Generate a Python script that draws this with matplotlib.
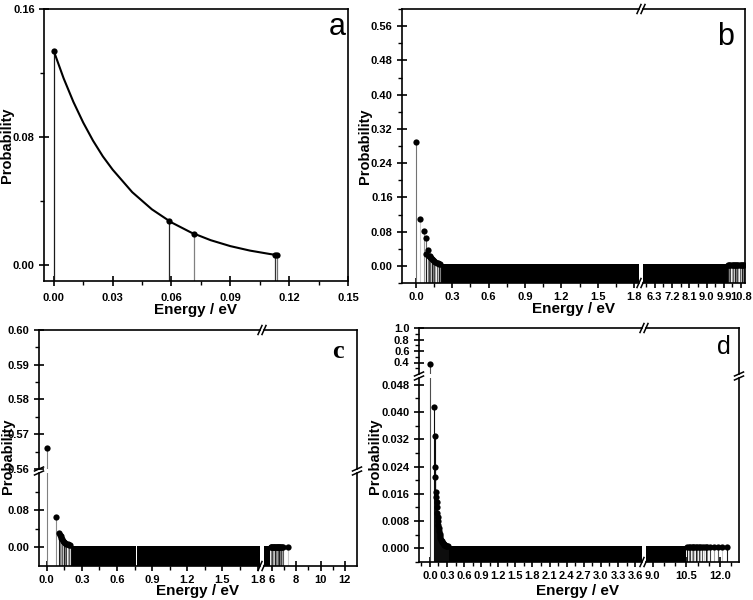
import matplotlib.pyplot as plt
from matplotlib.lines import Line2D
from matplotlib.ticker import MultipleLocator, FixedLocator, FormatStrFormatter

plt.rcParams['font.family'] = ['Liberation Sans Narrow', 'Liberation Sans']
plt.rcParams['font.weight'] = 'bold'

W, H = 753, 600

# panel a : five levels and the fitted decay curve
a_energy = [0.0, 0.0585, 0.0714, 0.1129, 0.1138]
a_prob = [0.1337, 0.0276, 0.0192, 0.0062, 0.0062]
a_fit_energy = [0.0, 0.005, 0.01, 0.015, 0.02, 0.025, 0.03, 0.04, 0.05,
                0.06, 0.07, 0.08, 0.09, 0.10, 0.11, 0.1138]
a_fit_prob = [0.1337, 0.1167, 0.1019, 0.0890, 0.0777, 0.0679, 0.0596, 0.0455,
              0.0348, 0.0266, 0.0203, 0.0155, 0.0118, 0.0090, 0.0069, 0.0062]

# panel b
b_energy = [0.0, 0.035, 0.068, 0.079, 0.087, 0.100, 0.105, 0.112, 0.118, 0.125,
            0.132, 0.140, 0.150, 0.160, 0.170, 0.180, 0.190, 0.200]
b_prob = [0.289, 0.109, 0.082, 0.065, 0.027, 0.038, 0.024, 0.022, 0.020, 0.018,
          0.016, 0.013, 0.011, 0.009, 0.007, 0.006, 0.005, 0.004]
b_band_start = [0.195, 5.70]
b_band_end = [1.84, 10.10]
b_band_top = 0.004
b_tail_energy = [10.12, 10.18, 10.24, 10.30, 10.36, 10.42, 10.48, 10.54,
                 10.60, 10.66, 10.72, 10.78, 10.84, 10.90, 10.96]
b_tail_prob = [0.002, 0.002, 0.002, 0.002, 0.002, 0.002, 0.002, 0.002,
               0.002, 0.002, 0.002, 0.002, 0.002, 0.002, 0.002]

# panel c
c_energy = [0.0, 0.078, 0.107, 0.112, 0.119, 0.126, 0.133, 0.140, 0.150,
            0.160, 0.169, 0.180, 0.190, 0.197]
c_prob = [0.566, 0.066, 0.031, 0.0275, 0.024, 0.0203, 0.017, 0.0145, 0.011,
          0.0095, 0.008, 0.0068, 0.006, 0.0055]
c_band_start = [0.200, 0.612, 0.768, 5.37]
c_band_end = [0.609, 0.765, 1.82, 5.85]
c_band_top = 0.004
c_tail_energy = [5.90, 5.96, 6.02, 6.08, 6.14, 6.20, 6.26, 6.32, 6.38, 6.44,
                 6.50, 6.56, 6.62, 6.68, 6.74, 6.80, 6.90, 7.36]
c_tail_prob = [0.0005, 0.0005, 0.0005, 0.0005, 0.0005, 0.0005, 0.0005, 0.0005,
               0.0005, 0.0005, 0.0005, 0.0005, 0.0005, 0.0005, 0.0005, 0.0005,
               0.0005, 0.0005]

# panel d
d_energy = [0.0, 0.075, 0.082, 0.090, 0.094, 0.105, 0.112, 0.118, 0.124, 0.130,
            0.136, 0.142, 0.148, 0.155, 0.162, 0.170, 0.178, 0.186, 0.195,
            0.205, 0.215, 0.228, 0.242, 0.256, 0.270, 0.285, 0.300, 0.315]
d_prob = [0.38, 0.0415, 0.033, 0.024, 0.021, 0.0165, 0.0150, 0.0135, 0.0120,
          0.0105, 0.0092, 0.0080, 0.0070, 0.0060, 0.0051, 0.0043, 0.0036,
          0.0030, 0.0025, 0.0021, 0.0018, 0.0015, 0.0012, 0.0010, 0.0009,
          0.0008, 0.0007, 0.0007]
d_band_start = [0.30, 8.70]
d_band_end = [3.72, 10.50]
d_band_top = 0.0007
d_tail_energy = [10.55, 10.62, 10.68, 10.74, 10.80, 10.86, 10.92, 10.98, 11.05,
                 11.12, 11.20, 11.28, 11.36, 11.44, 11.55, 11.72, 11.90, 12.10,
                 12.30]
d_tail_prob = [0.0003, 0.0003, 0.0003, 0.0003, 0.0003, 0.0003, 0.0003, 0.0003,
               0.0003, 0.0003, 0.0003, 0.0003, 0.0003, 0.0003, 0.0003, 0.0003,
               0.0003, 0.0003, 0.0003]

GREYS = ['0.1', '0.5', '0.25', '0.65', '0.35', '0.8']

fig = plt.figure(figsize=(W / 100, H / 100), dpi=100)


def px(x, y):
    return x / W, 1 - y / H


def add_axes(l, r, t, b, hide=(), xticks=True, yticks=True):
    ax = fig.add_axes([l / W, 1 - b / H, (r - l) / W, (b - t) / H])
    for side in ax.spines:
        ax.spines[side].set_linewidth(1.2)
    for side in hide:
        ax.spines[side].set_visible(False)
    ax.tick_params(which='major', direction='inout', length=7.5, width=1.2,
                   labelsize=8)
    ax.tick_params(which='minor', direction='out', length=3, width=1.0)
    ax.tick_params(axis='x', which='major', pad=2.5)
    ax.tick_params(axis='y', which='major', pad=3)
    ax.tick_params(which='both', top=False, right=False)
    if not xticks:
        ax.tick_params(which='both', bottom=False, labelbottom=False)
    if not yticks:
        ax.tick_params(which='both', left=False, labelleft=False)
    return ax


def slash(x, y, on_horizontal):
    for off in (-2, 2):
        if on_horizontal:
            xs = [x + off - 2, x + off + 2]
            ys = [y + 4.5, y - 4.5]
        else:
            xs = [x - 4.5, x + 4.5]
            ys = [y + off + 2, y + off - 2]
        fig.add_artist(Line2D([v / W for v in xs], [1 - v / H for v in ys],
                              transform=fig.transFigure, color='k', lw=1.1))


def draw_levels(ax, energy, prob, base, colors):
    ax.vlines(energy, base, prob, colors=colors, lw=0.8)
    ax.plot(energy, prob, 'o', color='k', ms=4.5, mew=0)


def draw_band(ax, start, end, top, base):
    widths = [e - s for s, e in zip(start, end)]
    ax.bar(start, top - base, width=widths, bottom=base, align='edge',
           color='k', lw=0)


def cycle(n):
    return [GREYS[i % len(GREYS)] for i in range(n)]


def fmt(ax, xf=None, yf=None):
    if xf:
        ax.xaxis.set_major_formatter(FormatStrFormatter(xf))
    if yf:
        ax.yaxis.set_major_formatter(FormatStrFormatter(yf))


# ---------------- a ----------------
ax = add_axes(44, 348, 9, 281)
ax.set_xlim(-0.005, 0.15)
ax.set_ylim(-0.01, 0.16)
ax.vlines(a_energy, -0.01, a_prob, colors=['0.1', '0.15', '0.5', '0.2', '0.45'], lw=0.9)
ax.plot(a_fit_energy, a_fit_prob, color='k', lw=1.5)
ax.plot(a_energy, a_prob, 'o', color='k', ms=4.5, mew=0)
ax.xaxis.set_major_locator(MultipleLocator(0.03))
ax.xaxis.set_minor_locator(MultipleLocator(0.015))
ax.yaxis.set_major_locator(MultipleLocator(0.08))
ax.yaxis.set_minor_locator(MultipleLocator(0.04))
ax.tick_params(axis='y', which='major', pad=3)
ax.tick_params(axis='x', which='major', pad=5)
fmt(ax, '%.2f', '%.2f')

# ---------------- b ----------------
b_base = -0.04
axl = add_axes(402, 639, 9, 283, hide=('right',))
axr = add_axes(643, 745, 9, 283, hide=('left',), yticks=False)
for a_ in (axl, axr):
    a_.set_ylim(b_base, 0.60)
    draw_band(a_, b_band_start, b_band_end, b_band_top, b_base)
    draw_levels(a_, b_energy, b_prob, b_base, ['0.45', '0.8', '0.6', '0.4'] + cycle(len(b_energy) - 4))
    draw_levels(a_, b_tail_energy, b_tail_prob, b_base, cycle(len(b_tail_energy)))
axl.set_xlim(-0.115, 1.84)
axr.set_xlim(5.70, 11.0)
axl.yaxis.set_major_locator(MultipleLocator(0.08))
axl.yaxis.set_minor_locator(MultipleLocator(0.04))
axl.xaxis.set_major_locator(MultipleLocator(0.3))
axl.xaxis.set_minor_locator(MultipleLocator(0.15))
axr.xaxis.set_major_locator(FixedLocator([6.3, 7.2, 8.1, 9.0, 9.9, 10.8]))
axr.xaxis.set_minor_locator(FixedLocator([5.85, 6.75, 7.65, 8.55, 9.45, 10.35]))
fmt(axl, '%.1f', '%.2f')
fmt(axr, '%.1f')
slash(641, 9, True)
slash(641, 283, True)

# ---------------- c ----------------
c_base = -0.04
cul = add_axes(39, 260, 330, 469, hide=('right', 'bottom'), xticks=False)
cur = add_axes(264, 357, 330, 469, hide=('left', 'bottom'), xticks=False, yticks=False)
cll = add_axes(39, 260, 473, 566, hide=('right', 'top'))
clr = add_axes(264, 357, 473, 566, hide=('left', 'top'), yticks=False)
for a_ in (cul, cll):
    a_.set_xlim(-0.065, 1.82)
for a_ in (cur, clr):
    a_.set_xlim(5.35, 13.0)
for a_ in (cul, cur):
    a_.set_ylim(0.56, 0.60)
for a_ in (cll, clr):
    a_.set_ylim(c_base, 0.16)
for a_ in (cul, cur, cll, clr):
    draw_band(a_, c_band_start, c_band_end, c_band_top, c_base)
    draw_levels(a_, c_energy, c_prob, c_base, ['0.5', '0.55'] + cycle(len(c_energy) - 2))
    draw_levels(a_, c_tail_energy, c_tail_prob, c_base, cycle(len(c_tail_energy)))
cul.yaxis.set_major_locator(MultipleLocator(0.01))
cul.yaxis.set_minor_locator(MultipleLocator(0.005))
cll.yaxis.set_major_locator(FixedLocator([0.0, 0.08]))
cll.yaxis.set_minor_locator(FixedLocator([0.04, 0.12]))
cll.xaxis.set_major_locator(MultipleLocator(0.3))
cll.xaxis.set_minor_locator(MultipleLocator(0.15))
clr.xaxis.set_major_locator(FixedLocator([6, 8, 10, 12]))
clr.xaxis.set_minor_locator(FixedLocator([7, 9, 11]))
fmt(cul, yf='%.2f')
fmt(cll, '%.1f', '%.2f')
fmt(clr, '%d')
slash(262, 330, True)
slash(262, 566, True)
slash(39, 471, False)
slash(357, 471, False)

# ---------------- d ----------------
d_base = -0.004
dul = add_axes(419, 642, 328, 374, hide=('right', 'bottom'), xticks=False)
dur = add_axes(646, 739, 328, 374, hide=('left', 'bottom'), xticks=False, yticks=False)
dll = add_axes(419, 642, 378, 562, hide=('right', 'top'))
dlr = add_axes(646, 739, 378, 562, hide=('left', 'top'), yticks=False)
for a_ in (dul, dll):
    a_.set_xlim(-0.19, 3.72)
for a_ in (dur, dlr):
    a_.set_xlim(8.7, 12.85)
for a_ in (dul, dur):
    a_.set_ylim(0.2, 1.0)
for a_ in (dll, dlr):
    a_.set_ylim(d_base, 0.05)
for a_ in (dul, dur, dll, dlr):
    draw_band(a_, d_band_start, d_band_end, d_band_top, d_base)
    draw_levels(a_, d_energy, d_prob, d_base, ['0.3'] + ['0.05'] * (len(d_energy) - 1))
    draw_levels(a_, d_tail_energy, d_tail_prob, d_base, cycle(len(d_tail_energy)))
dul.yaxis.set_major_locator(FixedLocator([0.4, 0.6, 0.8, 1.0]))
dul.yaxis.set_minor_locator(FixedLocator([0.3, 0.5, 0.7, 0.9]))
dll.yaxis.set_major_locator(MultipleLocator(0.008))
dll.yaxis.set_minor_locator(MultipleLocator(0.004))
dll.xaxis.set_major_locator(MultipleLocator(0.3))
dll.xaxis.set_minor_locator(MultipleLocator(0.15))
dlr.xaxis.set_major_locator(FixedLocator([9.0, 10.5, 12.0]))
dlr.xaxis.set_minor_locator(FixedLocator([9.5, 10.0, 11.0, 11.5, 12.5]))
fmt(dul, yf='%.1f')
fmt(dll, '%.1f', '%.3f')
fmt(dlr, '%.1f')
slash(644, 328, True)
slash(644, 562, True)
slash(419, 376, False)
slash(739, 376, False)

# ---------------- labels ----------------
for (x, y) in [(196, 310), (573, 309), (198, 591), (577, 591)]:
    fig.text(*px(x, y), 'Energy / eV', ha='center', va='center', size=11)
for (x, y) in [(7, 145), (365, 146), (8, 456), (375, 456)]:
    fig.text(*px(x, y), 'Probability', rotation=90, ha='center', va='center',
             size=10.5, family='Liberation Sans')

fig.text(*px(337, 27), 'a', ha='center', va='center', size=22,
         weight='normal', family='Liberation Sans')
fig.text(*px(726, 37), 'b', ha='center', va='center', size=22,
         weight='normal', family='Liberation Sans')
fig.text(*px(338, 352), 'c', ha='center', va='center', size=19,
         weight='bold', family='Liberation Serif')
fig.text(*px(724, 347), 'd', ha='center', va='center', size=18,
         weight='normal', family='Liberation Sans')

fig.savefig('out.png', dpi=100)
